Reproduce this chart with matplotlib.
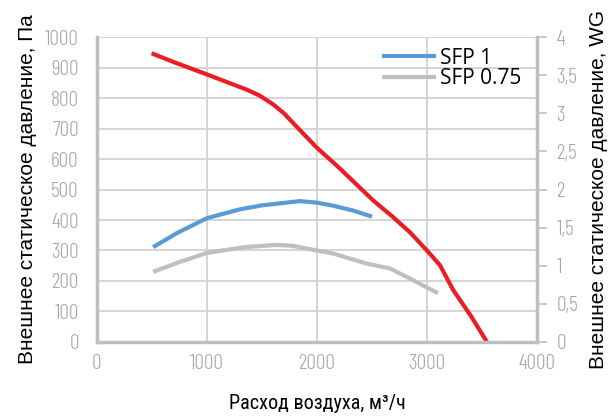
import matplotlib
matplotlib.use("Agg")
import matplotlib.pyplot as plt
from matplotlib.ticker import FixedLocator, FuncFormatter

# red curve: external static pressure, Pa
air_flow = [497, 700, 997, 1200, 1360, 1480, 1600, 1700, 1800, 1997, 2200, 2350, 2512, 2694, 2850, 2997, 3118, 3239, 3400, 3545]
pressure = [947, 918, 878, 850, 828, 808, 780, 750, 712, 638, 572, 520, 464, 409, 358, 301, 252, 170, 85, 0]

# SFP 1
sfp1_flow = [511, 727, 1000, 1300, 1500, 1845, 2000, 2148, 2330, 2500]
sfp1_pres = [311, 357, 406, 435, 448, 462, 457, 447, 431, 411]

# SFP 0.75
sfp075_flow = [511, 750, 1000, 1340, 1626, 1770, 2000, 2148, 2452, 2664, 2845, 3100]
sfp075_pres = [230, 262, 292, 311, 318, 316, 300, 290, 257, 241, 208, 160]

x_ticks = [0, 1000, 2000, 3000, 4000]
y_ticks = list(range(0, 1001, 100))
wg_ticks = [0, 0.5, 1, 1.5, 2, 2.5, 3, 3.5, 4]

tick_color = "#a6a6a6"
spine_color = "#bfbfbf"
grid_color = "#d2d2d2"
tick_font = ["Barlow Condensed", "DejaVu Sans"]
label_font = ["Liberation Sans", "DejaVu Sans"]

fig = plt.figure(figsize=(6.13, 4.17), dpi=100)
ax = fig.add_axes([0.158, 0.180, 0.718, 0.731])

ax.plot(sfp1_flow, sfp1_pres, color="#5b9bd5", lw=3, label="SFP 1", solid_capstyle="butt")
ax.plot(sfp075_flow, sfp075_pres, color="#bfbfbf", lw=3, label="SFP 0.75", solid_capstyle="butt")
ax.plot(air_flow, pressure, color="#ec1c24", lw=3, solid_capstyle="butt")

ax.set_xlim(0, 4000)
ax.set_ylim(0, 1000)
ax.set_xticks(x_ticks)
ax.set_yticks(y_ticks)
ax.grid(True, color=grid_color, lw=1.3)
ax.set_axisbelow(True)
ax.tick_params(axis="y", length=0, labelcolor=tick_color, labelsize=15.5, pad=13)
ax.tick_params(axis="x", length=0, labelcolor=tick_color, labelsize=15.5, pad=9)
for lab in ax.get_xticklabels() + ax.get_yticklabels():
    lab.set_family(tick_font)
    lab.set_fontweight(300)

for side in ["left", "bottom", "right"]:
    ax.spines[side].set_color(spine_color)
    ax.spines[side].set_linewidth(2.5)
ax.spines["top"].set_visible(False)

ax2 = ax.twinx()
ax2.set_ylim(0, 4)
ax2.yaxis.set_major_locator(FixedLocator(wg_ticks))
ax2.yaxis.set_major_formatter(FuncFormatter(lambda v, p: f"{v:g}".replace(".", ",")))
ax2.tick_params(length=7, width=1.2, color=spine_color, labelcolor=tick_color, labelsize=15.5, pad=7)
for lab in ax2.get_yticklabels():
    lab.set_family(tick_font)
    lab.set_fontweight(300)
for s in ax2.spines.values():
    s.set_visible(False)

ax.set_xlabel("Расход воздуха, м³/ч", fontsize=14.5, family=["Roboto Condensed", "DejaVu Sans"], labelpad=15)
ax.set_ylabel("Внешнее статическое давление, Па", fontsize=15, family=label_font, labelpad=6)
ax2.set_ylabel("Внешнее статическое давление, WG", fontsize=15, family=label_font, labelpad=8)

ax.legend(loc="center left", bbox_to_anchor=(382 / 613, 1 - 68.5 / 417), bbox_transform=fig.transFigure,
          frameon=False, prop={"family": ["Open Sans", "DejaVu Sans"], "size": 15},
          handlelength=2.6, handletextpad=0.2, labelspacing=0.0, borderpad=0, borderaxespad=0)

fig.savefig("out.png", dpi=100)
